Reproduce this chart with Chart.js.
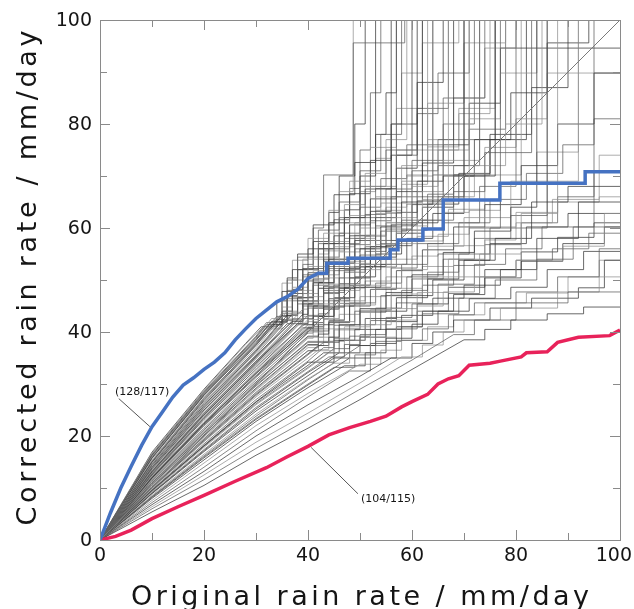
<!DOCTYPE html>
<html>
<head>
<meta charset="utf-8">
<script src="https://cdn.jsdelivr.net/npm/chart.js@4.4.1/dist/chart.umd.min.js"></script>
<style>
  html, body { margin: 0; padding: 0; background: #fff; }
  #wrap { width: 634px; height: 609px; }
</style>
</head>
<body>
<div id="wrap"><canvas id="chart" width="634" height="609"></canvas></div>
<script>
// ---- data ----
const tickValues = [0, 10, 20, 30, 40, 50, 60, 70, 80, 90, 100];
const tickLabels = ['0', '', '20', '', '40', '', '60', '', '80', '', '100'];
const xTitle = 'Original rain rate / mm/day';
const yTitle = 'Corrected rain rate / mm/day';

// blue curve (128/117): smooth part, then steps [x, new y]
const blueSmooth = [[2,5.2],[4,10],[6,14.2],[8,18.2],[10,21.8],[12,24.6],[14,27.5],[16,29.8],[18,31.2],
  [20,32.8],[22,34.2],[24,36],[26,38.5],[28,40.6],[30,42.6],[32,44.2],[34,45.8],[36,46.8],[38,48.2],[40,50.3],[42,51.3]];
const blueSteps = [[43.6,53.2],[47.7,54.2],[55.8,55.8],[57.3,57.7],[62.1,59.8],[66,65.4],[76.9,68.6],[93.3,70.8]];

// red curve (104/115)
const redPoints = [[0,0],[3,0.7],[6,1.9],[10,4.1],[15,6.4],[20,8.6],[26,11.3],[32,13.9],[36,16],[40,18],[44,20.2],
  [48,21.6],[52,22.8],[55,23.8],[58,25.6],[60,26.6],[63,28],[65,30],[67,31],[69,31.6],[71,33.6],[75,34],[77,34.4],
  [81,35.2],[82,36],[86,36.2],[88,38],[92,39],[98,39.3],[100,40.4]];

const diagPoints = [[0,0],[100,100]];

// grey curves: [smooth vertices, steps [x, new y]]; y >= 100 runs off the top
const grayCurves = [
  [[[10,5.4],[20,10.5],[30,16.3],[40,21.5],[50,27],[60,32.8],[70,38.5]], [[74,40.5],[79,42.3],[86,43.5],[93,44.8]]],
  [[[10,6],[20,11.6],[30,17.6],[40,23.2],[50,29],[60,34.6],[68,39.5]], [[72,42.3],[80,45.6],[90,47.7]]],
  [[[10,6.4],[20,12.5],[30,18.8],[40,24.4],[50,30.2],[58,35.2]], [[62,37.5],[66,40],[70,42.3],[77,44.6],[88,47.7],[96,50.6]]],
  [[[10,6.8],[20,13.2],[30,20],[40,26],[50,31.5],[56,35]], [[60,37.8],[64,40],[68,42.3],[75,44.6],[83,46.5],[92,48.5],[97,53.8]]],
  [[[10,7.2],[20,14],[30,21],[40,27.5],[48,32.5]], [[52,35],[57,38.4],[62,40.6],[67,43.3],[72,45.6],[80,47.7],[88,50.6],[96,56]]],
  [[[10,7.6],[20,14.8],[30,22],[40,28.2],[50,33.8]], [[54,36.5],[58,38.4],[63,41],[68,43.3],[74,45.6],[82,47.5],[90,50.6],[96,53.8]]],
  [[[10,8],[20,15.4],[30,22.8],[40,29.3],[47,33.5]], [[51,36],[55,38.8],[60,41.5],[65,44],[71,46.4],[79,48.6],[86,52],[93,55.5]]],
  [[[10,8.3],[20,16],[30,23.4],[40,30],[45,33.2]], [[49,35.6],[53,38.2],[58,41],[62,43.5],[69,46.5],[76,50],[84,54],[91,60.2]]],
  [[[10,8.6],[20,16.5],[30,24.2],[40,31],[45,34]], [[48,36],[52,39],[57,42.3],[61,45],[66,47.7],[72,50.6],[80,53.8],[89,56.5],[97,62.8]]],
  [[[10,8.9],[20,17],[30,24.8],[40,31.6],[45,35]], [[48,37.4],[53,40.5],[58,43.2],[64,46.5],[70,49],[77,52],[84,58],[92,65]]],
  [[[10,9.1],[20,17.4],[30,25.5],[40,32.4],[44,35.2]], [[47,37.6],[50,39.5],[55,42.8],[60,45.4],[65,49.2],[72,53],[78,56],[85,60.2],[95,130]]],
  [[[10,9.3],[20,17.8],[30,26],[40,33],[44,36]], [[47,38.4],[51,41.4],[56,44.5],[61,47.6],[67,50.6],[73,55],[81,62.8],[88,130]]],
  [[[10,9.5],[20,18.1],[30,26.5],[40,33.6],[43,36]], [[46,38.4],[49,40.5],[54,44],[59,47],[64,50],[70,53.8],[76,58],[83,65],[90,68]]],
  [[[10,9.7],[20,18.5],[30,27],[40,34.4],[43,37]], [[45,38.8],[48,41.4],[53,44.6],[58,48],[63,51.5],[69,55],[75,60],[86,130]]],
  [[[10,9.9],[20,18.9],[30,27.5],[40,35],[42,36.6]], [[44,38.2],[47,41],[52,44.3],[56,47.3],[62,50.6],[67,54],[74,57.7],[80,61],[87,65.5],[96,74]]],
  [[[10,10.1],[20,19.2],[30,28],[40,35.8],[42,37.4]], [[44,39],[46,41.4],[50,44.5],[55,47.6],[60,51],[66,55.3],[72,59.4],[79,64],[84,130]]],
  [[[10,10.3],[20,19.5],[30,28.4],[40,36.4]], [[42,38.2],[45,41.3],[49,44],[54,47],[59,50.6],[65,55],[71,60],[77,130]]],
  [[[10,10.5],[20,19.8],[30,28.8],[40,37]], [[42,39],[45,42],[49,45.2],[53,48.4],[58,52],[63,56.5],[70,62],[79,69],[92,130]]],
  [[[10,10.7],[20,20.2],[30,29.2],[40,37.6]], [[42,39.6],[44,41.8],[48,45],[52,48.2],[57,51.8],[62,55.8],[68,60.2],[74,64.5],[81,72],[88,80],[95,89.8]]],
  [[[10,10.9],[20,20.5],[30,29.6],[40,38.2]], [[42,40.2],[44,42.2],[47,45.4],[51,48.6],[56,52.3],[61,57],[66,61],[73,68],[80,130]]],
  [[[10,11.1],[20,20.9],[30,30],[40,38.8]], [[41,40],[43,42.6],[46,45.5],[50,49],[55,53],[60,57.5],[66,63],[71,130]]],
  [[[10,11.3],[20,21.2],[30,30.4],[40,39.2]], [[42,41.4],[45,45],[49,48.6],[54,53],[59,58],[64,62.8],[70,70],[76,130]]],
  [[[10,11.5],[20,21.5],[30,30.8],[40,39.8]], [[41,41],[43,43],[45,46],[48,49],[52,52.5],[57,57.4],[62,61.5],[68,67],[74,74.5],[83,130]]],
  [[[10,11.7],[20,21.9],[30,31.2],[40,40.4]], [[42,42.6],[44,45.5],[48,49],[52,53],[56,57],[61,61.5],[66,66],[72,72],[78,80],[85,130]]],
  [[[10,11.9],[20,22.2],[30,31.6],[40,40.8]], [[41,41.8],[43,44.8],[47,48.5],[51,52.6],[55,56.6],[60,61],[65,66],[70,130]]],
  [[[10,12.1],[20,22.5],[30,32],[40,41.4]], [[42,43.5],[44,46],[46,49.3],[50,53],[54,57],[58,61.5],[63,66.5],[68,72],[73,130]]],
  [[[10,12.3],[20,22.8],[30,32.4],[40,42.4]], [[42,45.4],[45,48.8],[49,52.6],[53,56.8],[57,61],[62,65.5],[67,130]]],
  [[[10,12.5],[20,23.2],[30,32.8],[39,41.4]], [[41,45],[44,48.5],[48,52.5],[52,56.4],[56,60.6],[61,65.2],[66,70],[72,77],[79,86],[86,95.6],[94,130]]],
  [[[10,12.7],[20,23.5],[30,33.2],[40,43.2]], [[43,47.6],[47,51.5],[51,55.5],[55,59.8],[60,64.5],[64,130]]],
  [[[10,12.9],[20,23.8],[30,33.6],[38,41.4]], [[39,43],[41,46],[44,49.2],[48,53.2],[52,57.6],[56,62],[61,67],[66,73],[73,130]]],
  [[[10,13.1],[20,24.1],[30,34],[39,43.4]], [[40,45.4],[43,48.8],[46,52.2],[50,56],[54,60.2],[58,65],[62,130]]],
  [[[10,13.3],[20,24.4],[30,34.4],[37,41.6]], [[39,45],[42,48.4],[45,51.8],[49,56],[53,60.4],[57,130]]],
  [[[10,13.5],[20,24.7],[30,34.8],[39,44.4]], [[40,46.8],[43,50.4],[47,54.4],[51,58.6],[55,63],[60,68],[65,75],[71,81],[77,89.8],[84,130]]],
  [[[10,13.7],[20,25],[30,35.2],[36,41.6]], [[37,42.5],[39,46],[42,49.5],[45,53.2],[49,57.6],[53,62],[57,67],[62,72.5],[68,130]]],
  [[[10,13.9],[20,25.3],[30,35.6],[37,43.4]], [[38,45.4],[41,49],[44,52.6],[48,56.8],[52,61.4],[56,66],[60,71],[65,77],[70,130]]],
  [[[10,14.1],[20,25.6],[30,36],[36,42.4]], [[37,43.8],[39,47.4],[42,51],[46,55.4],[50,60],[54,64.8],[59,70],[64,130]]],
  [[[10,14.3],[20,25.9],[30,36.3],[36,43.2]], [[38,46.6],[41,50.2],[44,54],[48,58.5],[52,63.2],[56,130]]],
  [[[10,14.5],[20,26.2],[30,36.6],[35,42.2]], [[37,46],[40,49.8],[43,53.6],[47,58],[51,62.6],[55,67.5],[60,73],[66,80],[72,130]]],
  [[[10,14.7],[20,26.5],[30,37],[36,44]], [[38,48],[41,51.8],[45,56.4],[49,61],[53,66],[58,72],[63,130]]],
  [[[10,14.9],[20,26.8],[30,37.4],[35,43.2]], [[37,47.4],[40,51.4],[44,56],[48,60.6],[52,65.6],[57,71.5],[61,130]]],
  [[[10,15.1],[20,27.2],[30,37.8],[34,42.4]], [[36,46.8],[39,50.6],[42,54.4],[46,59],[50,64],[54,69.5],[59,76],[66,85],[74,130]]],
  [[[10,15.4],[20,27.4],[30,37.6],[34,42.8]], [[35,44.8],[37,48.6],[40,52.6],[44,57.4],[48,62.4],[52,68],[57,75],[63,84],[70,95.6],[78,130]]],
  [[[10,15.7],[20,27.8],[30,38],[33,41.4]], [[35,44],[37,48.2],[39,52.2],[43,57],[47,62],[51,67.5],[56,74],[60,130]]],
  [[[10,15.9],[20,28],[30,38.4],[33,42]], [[36,48],[38,52],[42,57],[46,62],[50,68],[55,75],[61,83],[67,130]]],
  [[[10,16.1],[20,28.2],[30,38.8],[33,42.6]], [[35,46],[37,50],[39,54],[43,59],[47,64.5],[51,70.5],[55,77],[59,130]]],
  [[[10,16.3],[20,28.4],[30,39],[32,41.4]], [[35,47.8],[37,52],[40,56],[44,61],[48,66.6],[52,73],[56,80],[61,88],[66,130]]],
  [[[10,16.5],[20,28.6],[30,39.2],[32,41.8]], [[36,50],[38,54.4],[42,59.6],[46,65],[50,71],[54,78],[58,130]]],
  [[[10,16.7],[20,28.8],[28,37.6],[31,40.6]], [[35,49.4],[37,53.8],[40,58],[44,63.4],[48,69],[52,75.5],[57,83],[62,95.6],[69,130]]],
  [[[10,16.9],[20,29],[28,37.8],[31,41]], [[34,46],[36,50.4],[38,55],[41,60.6],[45,66.4],[49,72.6],[53,130]]],
  [[[10,15],[20,27],[30,37.6],[35,43.6]], [[37,48],[39,53],[41,60],[43,70.2],[48.7,95.6],[58.6,130]]],
  [[[10,14.6],[20,26.4],[30,36.5],[36,42.5]], [[38,46],[40,50],[42,55],[44,61],[46,67],[48.7,130]]],
  [[[10,14],[20,25.5],[30,35.4],[37,42]], [[39,45.4],[41,49.5],[43,54],[45,58.5],[47,63.5],[50,70],[53,78],[55,86],[57,130]]],
  [[[10,13.2],[20,24.3],[30,34.4],[38,41.6]], [[40,45],[42,48.4],[44,52.2],[47,57],[50,62],[53,67.6],[57,74],[61,82],[65,89.8],[71,130]]],
  [[[10,12.6],[20,23.4],[30,33.4],[40,42]], [[42,45],[45,49],[48,53.6],[51,58.4],[55,64],[59,70.2],[63,77],[68,85],[74,94.6],[80,130]]],
  [[[10,12],[20,22.4],[30,32],[40,40.6]], [[43,44.4],[46,48.4],[49,52.6],[53,57.6],[57,63],[61,69],[66,76],[71,84],[77,94.6]]],
  [[[10,11],[20,20.6],[30,29.8],[40,38]], [[44,42],[48,45.6],[53,49.4],[58,53],[63,57],[69,61],[75,65.5],[82,70.5],[89,76],[95,81]]],
  [[[10,10.2],[20,19.4],[30,28.2],[40,36.4]], [[45,40.4],[50,44.2],[56,48.4],[62,52.6],[68,56.6],[74,60.2],[80,63],[88,65],[96,66]]],
  [[[10,9.6],[20,18.2],[30,26.6],[40,34.2]], [[45,38.4],[51,42.6],[57,46.6],[63,50.2],[69,53.8],[75,57],[82,60.2],[90,62.8]]],
  [[[10,8.4],[20,16.2],[30,23.8],[40,30.8],[50,37.4]], [[55,40.6],[61,44],[67,47.4],[73,50.6],[80,53.8],[87,56],[94,59]]],
  [[[10,12.2],[20,22.6],[30,32.2],[40,41]], [[43,44.6],[46,48],[50,52],[54,56.2],[58,60.4],[63,65],[68,70],[74,75.5],[80,81],[86,89.8]]],
  [[[10,9],[20,17.2],[30,25.2],[40,32.2],[46,36]], [[50,39],[55,42],[61,45.4],[67,48.6],[74,52],[81,55.4],[88,58.2],[95,61]]],
  [[[10,10],[20,19],[30,27.8],[40,35.6],[43,38]], [[46,40.6],[50,43.8],[55,47],[60,50.2],[66,54],[72,58],[79,62.4],[86,130]]],
  [[[10,11],[20,20.8],[30,30.2],[40,39]], [[43,42.4],[47,46],[51,49.8],[56,54],[61,58.4],[67,63.6],[74,70.2],[81,130]]],
  [[[10,12],[20,22.4],[30,32.2],[39,40.8]], [[41,43],[44,46.4],[48,50.4],[52,54.4],[57,59],[62,64],[68,70.2],[75,78],[83,87],[90,130]]],
  [[[10,13],[20,24],[30,34.2],[38,41.6]], [[40,44.6],[43,48],[47,52],[51,56.4],[55,61],[60,66],[65,72],[71,79],[78,130]]],
  [[[10,14],[20,25.8],[30,36.2],[37,43.6]], [[39,46.6],[41,49.4],[45,54],[49,58.6],[53,63.4],[58,69],[63,75.6],[69,83],[76,130]]],
  [[[10,8.2],[20,15.8],[30,23.2],[40,29.8],[48,35]], [[52,37.8],[57,41],[62,44],[68,47.2],[74,50.4],[81,53.6],[89,57],[97,60.2]]],
  [[[10,9.4],[20,18],[30,26.2],[40,33.2],[45,36.8]], [[48,39.2],[52,42.2],[57,45.6],[62,49],[68,52.8],[74,56.8],[81,61],[88,66],[95,71]]],
  [[[10,10.6],[20,20],[30,29],[40,37.4]], [[43,40.6],[46,43.4],[50,46.8],[55,50.6],[60,54.6],[65,58.8],[71,63.4],[77,68.6],[84,74.6],[92,130]]],
  [[[10,11.8],[20,22],[30,31.4],[40,40.2]], [[42,43],[45,46.6],[49,50.6],[53,55],[58,59.6],[63,64.6],[69,70.5],[75,77],[82,130]]],
  [[[10,12.8],[20,23.6],[30,33.8],[39,42.6]], [[41,44.6],[43,47.4],[46,50.4],[50,54.8],[54,59.4],[59,64.6],[64,70.2],[70,77],[76,130]]],
  [[[10,13.6],[20,24.9],[30,35],[37,42.2]], [[39,45.8],[42,49.4],[45,53.4],[49,58],[53,62.8],[58,68.4],[63,75],[69,82],[75,130]]],
  [[[10,16.2],[20,28.2],[30,38.6],[33,42]], [[36,47],[38,52],[41,57.4],[44,63],[46,70],[49,80],[51,130]]],
  [[[10,15.8],[20,27.9],[30,38.4],[34,43]], [[36,46.4],[39,51],[42,56],[45,61.6],[48,67.6],[50,75],[52,86],[54,130]]],
  [[[10,15.2],[20,27.4],[30,37.6],[35,43]], [[37,46.6],[40,51],[43,55.6],[47,61],[50,67],[53,73.4],[56,80],[58,89.8],[62,130]]]
];

// labels on the two highlighted curves (text position, leader start, leader end in data units)
const notes = [
  { text: '(128/117)', at: [2.9, 28.5], from: [3.6, 27.2], to: [9.6, 21.8] },
  { text: '(104/115)', at: [50.2, 7.9], from: [49.6, 8.9], to: [40.6, 17.8] }
];

// ---- build the point lists ----
function buildCurve(smooth, steps) {
  const pts = [{ x: 0, y: 0 }];
  smooth.forEach(p => pts.push({ x: p[0], y: p[1] }));
  let last = pts[pts.length - 1].y;
  steps.forEach(s => {
    pts.push({ x: s[0], y: last });
    pts.push({ x: s[0], y: s[1] });
    last = s[1];
  });
  if (last < 100 && pts[pts.length - 1].x < 100) pts.push({ x: 100, y: last });
  return pts;
}
const toXY = arr => arr.map(p => ({ x: p[0], y: p[1] }));

const grayShades = ['rgba(55,55,55,0.75)', 'rgba(95,95,95,0.75)', 'rgba(145,145,145,0.75)'];

const datasets = [
  { data: buildCurve(blueSmooth, blueSteps), borderColor: '#4572c2', borderWidth: 3.5 },
  { data: toXY(redPoints), borderColor: '#e8225a', borderWidth: 3.5 },
  { data: toXY(diagPoints), borderColor: '#7a7a7a', borderWidth: 1 }
];
grayCurves.forEach((c, i) => {
  datasets.push({ data: buildCurve(c[0], c[1]), borderColor: grayShades[i % 3], borderWidth: 1 });
});
datasets.forEach(d => {
  d.showLine = true;
  d.pointRadius = 0;
  d.tension = 0;
  d.fill = false;
  d.clip = 0;
});

// ---- frame, ticks, labels, titles ----
function drawSpaced(ctx, text, cx, cy, width) {
  const chars = text.split('');
  const widths = chars.map(ch => ctx.measureText(ch).width);
  const natural = widths.reduce((a, b) => a + b, 0);
  const gap = (width - natural) / (chars.length - 1);
  let x = cx - width / 2;
  ctx.textAlign = 'left';
  chars.forEach((ch, i) => {
    ctx.fillText(ch, x, cy);
    x += widths[i] + gap;
  });
}

const framePlugin = {
  id: 'frame',
  afterDraw(chart) {
    const ctx = chart.ctx;
    const { left, right, top, bottom } = chart.chartArea;
    const xs = chart.scales.x, ys = chart.scales.y;
    ctx.save();
    ctx.strokeStyle = '#8a8a8a';
    ctx.lineWidth = 1;
    ctx.strokeRect(left + 0.5, top + 0.5, right - left, bottom - top);
    ctx.beginPath();
    tickValues.forEach((v, i) => {
      const len = tickLabels[i] ? 10 : 7;
      const px = Math.round(xs.getPixelForValue(v)) + 0.5;
      const py = Math.round(ys.getPixelForValue(v)) + 0.5;
      ctx.moveTo(px, bottom); ctx.lineTo(px, bottom - len);
      ctx.moveTo(px, top); ctx.lineTo(px, top + len);
      ctx.moveTo(left, py); ctx.lineTo(left + len, py);
      ctx.moveTo(right, py); ctx.lineTo(right - len, py);
    });
    ctx.stroke();

    ctx.fillStyle = '#151515';
    ctx.font = '19px "DejaVu Sans"';
    ctx.textBaseline = 'middle';
    tickValues.forEach((v, i) => {
      const t = tickLabels[i];
      if (!t) return;
      const w = ctx.measureText(t).width;
      let px = xs.getPixelForValue(v);
      px = Math.min(px, chart.width - 2 - w / 2);
      ctx.textAlign = 'center';
      ctx.fillText(t, px, bottom + 16);
      ctx.textAlign = 'right';
      ctx.fillText(t, left - 8, ys.getPixelForValue(v) + 1);
    });

    ctx.font = '27px "DejaVu Sans"';
    ctx.textBaseline = 'alphabetic';
    drawSpaced(ctx, xTitle, (left + right) / 2, 605, 458);
    ctx.save();
    ctx.translate(36, (top + bottom) / 2 - 2);
    ctx.rotate(-Math.PI / 2);
    drawSpaced(ctx, yTitle, 0, 0, 495);
    ctx.restore();

    ctx.font = '11px "DejaVu Sans"';
    ctx.textAlign = 'left';
    ctx.textBaseline = 'middle';
    ctx.strokeStyle = '#555';
    notes.forEach(n => {
      ctx.fillText(n.text, xs.getPixelForValue(n.at[0]), ys.getPixelForValue(n.at[1]));
      ctx.beginPath();
      ctx.moveTo(xs.getPixelForValue(n.from[0]), ys.getPixelForValue(n.from[1]));
      ctx.lineTo(xs.getPixelForValue(n.to[0]), ys.getPixelForValue(n.to[1]));
      ctx.stroke();
    });
    ctx.restore();
  }
};

new Chart(document.getElementById('chart'), {
  type: 'scatter',
  data: { datasets: datasets },
  options: {
    responsive: false,
    animation: false,
    devicePixelRatio: 1,
    layout: { padding: { left: 0, top: 20, right: 14, bottom: 0 } },
    plugins: { legend: { display: false }, tooltip: { enabled: false } },
    scales: {
      x: {
        type: 'linear', min: 0, max: 100,
        grid: { display: false }, border: { display: false },
        ticks: { display: false },
        afterFit: s => { s.height = 69; }
      },
      y: {
        type: 'linear', min: 0, max: 100,
        grid: { display: false }, border: { display: false },
        ticks: { display: false },
        afterFit: s => { s.width = 100; }
      }
    }
  },
  plugins: [framePlugin]
});
</script>
</body>
</html>
